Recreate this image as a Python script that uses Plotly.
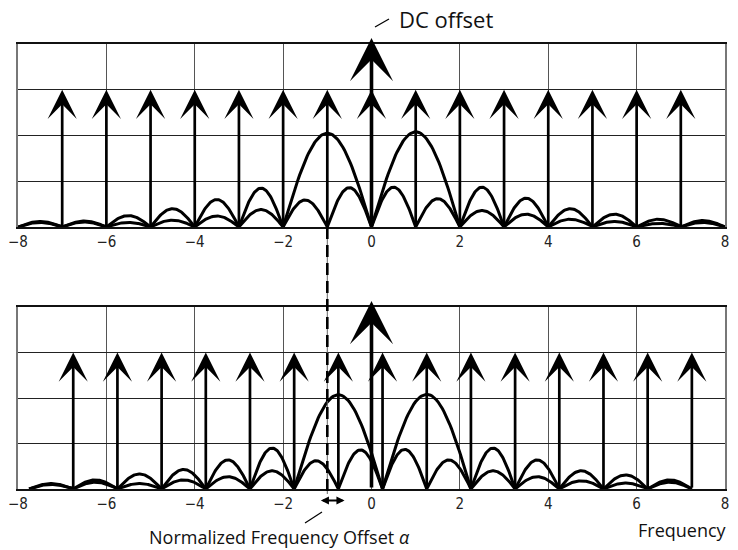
import numpy as np
import plotly.graph_objects as go

# ---------------- data ----------------
x_ticks = [-8, -6, -4, -2, 0, 2, 4, 6, 8]
x_tick_labels = ["\u22128", "\u22126", "\u22124", "\u22122", "0", "2", "4", "6", "8"]

# spectral lines (arrows)
top_arrow_freqs = [-7, -6, -5, -4, -3, -2, -1, 0, 1, 2, 3, 4, 5, 6, 7]
bottom_arrow_freqs = [-6.75, -5.75, -4.75, -3.75, -2.75, -1.75, -0.75, 0.25,
                      1.25, 2.25, 3.25, 4.25, 5.25, 6.25, 7.25]
arrow_height = 3.0
dc_freq = 0.0
dc_height = 4.13
offset_marker_freq = -1.0
offset_span = [-1.18, -0.61]  # extent of the double-headed alpha marker

# lobe boundaries and lobe peak heights of the two envelopes
top_upper_edges = [-8, -7, -6, -5, -4, -3, -2, 0, 2, 3, 4, 5, 6, 7, 8]
top_upper_peaks = [0.12, 0.13, 0.25, 0.40, 0.60, 0.85, 2.05, 2.08, 0.87, 0.63, 0.40, 0.28, 0.17, 0.14]
top_lower_edges = [-8, -7, -6, -5, -4, -3, -2, -1, 0, 1, 2, 3, 4, 5, 6, 7, 8]
top_lower_peaks = [0.10, 0.11, 0.10, 0.15, 0.24, 0.38, 0.59, 0.86, 0.87, 0.62, 0.36, 0.28, 0.17, 0.12, 0.08, 0.10]

bottom_upper_edges = [-7.75, -6.75, -5.75, -4.75, -3.75, -2.75, -1.75, 0.25, 2.25, 3.25, 4.25, 5.25, 6.25, 7.25]
bottom_upper_peaks = [0.12, 0.20, 0.33, 0.43, 0.64, 0.90, 2.07, 2.08, 0.90, 0.64, 0.40, 0.31, 0.20]
bottom_lower_edges = [-7.75, -6.75, -5.75, -4.75, -3.75, -2.75, -1.75, -0.75, 0.25, 1.25, 2.25, 3.25,
                      4.25, 5.25, 6.25, 7.25]
bottom_lower_peaks = [0.10, 0.15, 0.12, 0.20, 0.27, 0.40, 0.62, 0.86, 0.87, 0.64, 0.40, 0.27, 0.18, 0.13, 0.15]

# ---------------- helpers ----------------
PAGE_OFFSET = 8  # default body margin of the HTML page
W, H = 738 - 2 * PAGE_OFFSET, 550 - PAGE_OFFSET  # visible drawing area of the page
PLOT_LEFT, PLOT_RIGHT = 18, 725  # screen pixels of the x range ends
PX_PER_UNIT = (PLOT_RIGHT - PLOT_LEFT) / (x_ticks[-1] - x_ticks[0])


def px(xp):
    return (xp - PAGE_OFFSET) / W


def py(yp):
    return 1 - (yp - PAGE_OFFSET) / H


def lobe_path(edges, peaks, n=60):
    xs, ys = [], []
    t = np.linspace(0, 1, n)
    for a, b, h in zip(edges[:-1], edges[1:], peaks):
        xs.extend(a + (b - a) * t)
        ys.extend(h * np.sin(np.pi * t))
    return xs, ys


fig = go.Figure()

for edges, peaks, xa, ya in [
    (top_upper_edges, top_upper_peaks, "x", "y"),
    (top_lower_edges, top_lower_peaks, "x", "y"),
    (bottom_upper_edges, bottom_upper_peaks, "x2", "y2"),
    (bottom_lower_edges, bottom_lower_peaks, "x2", "y2"),
]:
    xs, ys = lobe_path(edges, peaks)
    fig.add_trace(go.Scatter(x=xs, y=ys, mode="lines", xaxis=xa, yaxis=ya,
                             line=dict(color="black", width=3),
                             hoverinfo="skip", showlegend=False))

annotations = []


def arrow(f, h, xr, yr, width=2.7, size=1.8):
    return dict(x=f, y=h, ax=f, ay=0, xref=xr, yref=yr, axref=xr, ayref=yr,
                text="", showarrow=True, arrowhead=3, arrowsize=size,
                arrowwidth=width, arrowcolor="black")


for f in top_arrow_freqs:
    annotations.append(arrow(f, arrow_height, "x", "y"))
annotations.append(arrow(dc_freq, dc_height, "x", "y", width=3.6, size=2.0))
for f in bottom_arrow_freqs:
    annotations.append(arrow(f, arrow_height, "x2", "y2"))
annotations.append(arrow(dc_freq, dc_height, "x2", "y2", width=3.6, size=2.0))

text_font = "Open Sans, Noto Sans, sans-serif"
annotations += [
    dict(x=px(397), y=py(19), xref="paper", yref="paper", xanchor="left", yanchor="middle",
         text="DC offset", showarrow=False, font=dict(family=text_font, size=22, color="#111")),
    dict(x=px(279), y=py(537), xref="paper", yref="paper", xanchor="center", yanchor="middle",
         text="Normalized Frequency Offset <i>\u03b1</i>", showarrow=False,
         font=dict(family=text_font, size=18, color="#111")),
    dict(x=px(729), y=py(530), xref="paper", yref="paper", xanchor="right", yanchor="middle",
         text="Frequency", showarrow=False, font=dict(family=text_font, size=18, color="#111")),
    dict(x=offset_span[1], y=py(500.5), xref="x2", yref="paper",
         ax=-(offset_span[1] - offset_span[0]) * PX_PER_UNIT, ay=0,
         text="", showarrow=True, arrowside="end+start", arrowhead=2, arrowsize=0.9,
         arrowwidth=1.8, arrowcolor="black"),
]

shapes = [
    dict(type="line", xref="paper", yref="paper", x0=px(375), y0=py(27), x1=px(389), y1=py(19),
         line=dict(color="black", width=1.2)),
    dict(type="line", xref="paper", yref="paper", x0=px(305), y0=py(523), x1=px(322), y1=py(512),
         line=dict(color="black", width=1.2)),
    dict(type="line", xref="x", yref="paper", x0=offset_marker_freq, x1=offset_marker_freq,
         y0=py(227), y1=py(494), line=dict(color="#666", width=1)),
    dict(type="line", xref="x", yref="paper", x0=offset_marker_freq, x1=offset_marker_freq,
         y0=py(227), y1=py(494), line=dict(color="black", width=2.6, dash="12px,6px")),
]

tick_font = dict(family="Liberation Sans Narrow, DejaVu Sans Condensed, Arial Narrow, sans-serif",
                 size=15, color="#222")

xcommon = dict(range=[x_ticks[0], x_ticks[-1]], tickmode="array", tickvals=x_ticks,
               ticktext=x_tick_labels,
               showgrid=True, gridcolor="#555", gridwidth=1, zeroline=False,
               showline=True, mirror=True, linecolor="#111", linewidth=1.6,
               ticks="", tickfont=tick_font, automargin=False, ticklabeloverflow="allow",
               domain=[px(PLOT_LEFT), px(PLOT_RIGHT)], fixedrange=True)
ycommon = dict(range=[0, 4], tickmode="array", tickvals=[0, 1, 2, 3, 4], showticklabels=False,
               showgrid=True, gridcolor="#222", gridwidth=1.3, zeroline=False,
               showline=True, mirror=True, linecolor="#777", linewidth=1.5, ticks="",
               automargin=False, fixedrange=True)

fig.update_layout(
    width=W, height=H,
    margin=dict(l=0, r=0, t=0, b=0, autoexpand=False),
    paper_bgcolor="white", plot_bgcolor="white",
    xaxis=dict(**xcommon, anchor="y"),
    yaxis=dict(**ycommon, domain=[py(227), py(44)], anchor="x"),
    xaxis2=dict(**xcommon, anchor="y2"),
    yaxis2=dict(**ycommon, domain=[py(489), py(307)], anchor="x2"),
    annotations=annotations,
    shapes=shapes,
    showlegend=False,
)

fig.write_html("out.html")
